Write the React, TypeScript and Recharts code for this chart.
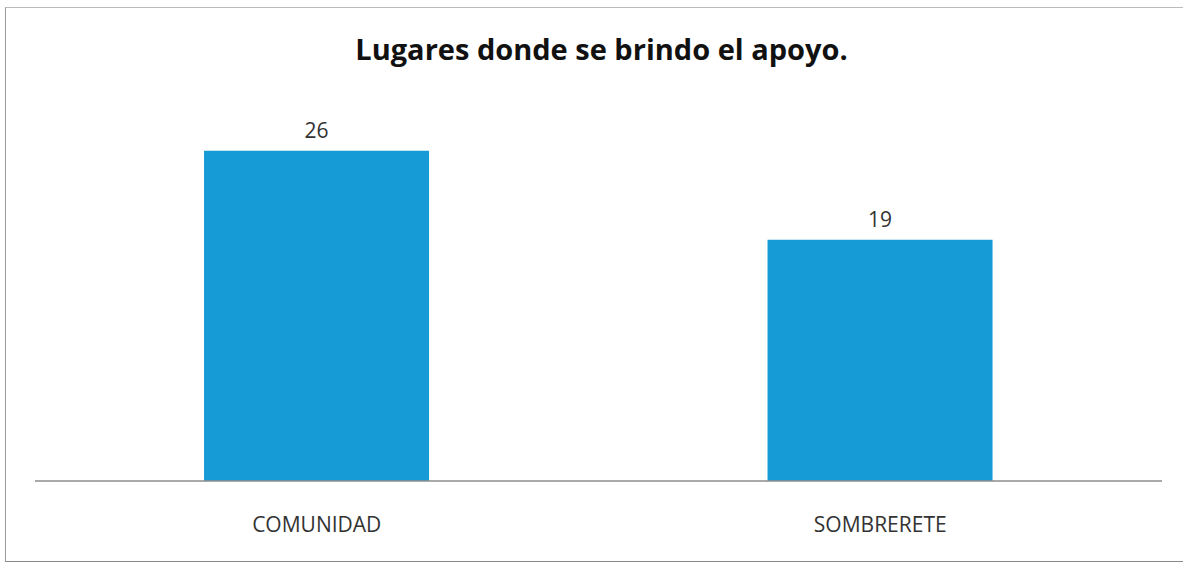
import React from 'react'
import { BarChart, Bar, XAxis, YAxis, LabelList } from 'recharts'

const categories = ['COMUNIDAD', 'SOMBRERETE']
const values = [26, 19]

const data = categories.map((name, i) => ({ name, value: values[i] }))

const font = '"Open Sans", "Liberation Sans", sans-serif'

const App: React.FC = () => {
    return (
        <div style={{ position: 'absolute', left: 0, top: 0, width: 1183, height: 565, background: '#fff', fontFamily: font, overflow: 'hidden' }}>
            <div
                style={{
                    position: 'absolute', left: 5, top: 7, width: 1190, height: 553,
                    borderLeft: '1.5px solid #9a9a9a', borderTop: '1.5px solid #bbb', borderBottom: '1.5px solid #8a8a8a',
                }}
            />
            <div
                style={{
                    position: 'absolute', left: 0, top: 29, width: 1203, textAlign: 'center',
                    fontSize: 29, fontWeight: 700, color: '#111', lineHeight: '40px',
                }}
            >
                Lugares donde se brindo el apoyo.
            </div>
            <BarChart
                width={1183}
                height={565}
                data={data}
                margin={{ top: 100, right: 21, bottom: 54, left: 35 }}
                barCategoryGap="30%"
                style={{ position: 'absolute', left: 0, top: 0 }}
            >
                <YAxis hide domain={[0, 30]} />
                <XAxis
                    dataKey="name"
                    axisLine={{ stroke: '#8c8c8c', strokeWidth: 1.5 }}
                    tickLine={false}
                    tickMargin={30}
                    tick={{ fill: '#333', fontSize: 21, fontFamily: font }}
                />
                <Bar dataKey="value" fill="#179BD7" isAnimationActive={false}>
                    <LabelList dataKey="value" position="top" offset={13} fill="#333" fontSize={21} fontFamily={font} />
                </Bar>
            </BarChart>
        </div>
    )
}

export default App
